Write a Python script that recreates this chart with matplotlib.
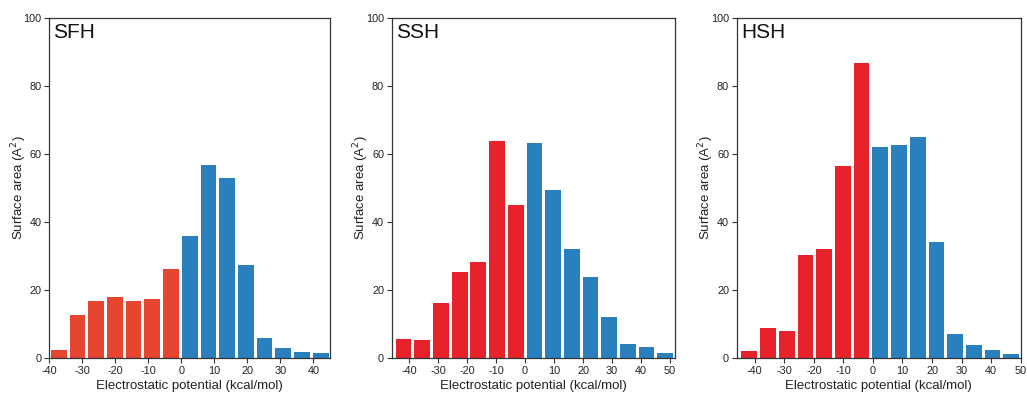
"""Surface area vs electrostatic potential histograms for SFH, SSH and HSH."""

import numpy as np
import matplotlib
matplotlib.use("Agg")
import matplotlib.pyplot as plt

plt.rcParams["font.family"] = ["Liberation Sans", "DejaVu Sans"]
plt.rcParams["axes.unicode_minus"] = False

RED_SFH = "#e64530"
RED = "#e8222a"
BLUE = "#2a80bc"
SPINE = "#333333"

# bin range (kcal/mol) of each histogram, 15 bins each
sfh_range = (-40, 45)
ssh_range = (-45.1, 51.5)
hsh_range = (-45, 50)

sfh_area = [2.4, 12.6, 16.9, 18.1, 16.7, 17.5, 26.1, 35.8, 56.8, 52.9, 27.4, 5.9, 3.1, 1.8, 1.6]
ssh_area = [5.8, 5.3, 16.1, 25.4, 28.2, 63.9, 44.9, 63.3, 49.4, 32.1, 23.9, 12.0, 4.1, 3.4, 1.5]
hsh_area = [2.2, 8.8, 8.0, 30.4, 32.0, 56.5, 86.7, 61.9, 62.6, 64.9, 34.1, 7.2, 4.0, 2.3, 1.3]

n_negative = 7  # first bins (below 0) drawn in red

panels = [
    ("SFH", sfh_range, sfh_area, RED_SFH, (-40, 45), [-40, -30, -20, -10, 0, 10, 20, 30, 40]),
    ("SSH", ssh_range, ssh_area, RED, (-46, 51.7), [-40, -30, -20, -10, 0, 10, 20, 30, 40, 50]),
    ("HSH", hsh_range, hsh_area, RED, (-46.1, 50), [-40, -30, -20, -10, 0, 10, 20, 30, 40, 50]),
]

W, H = 1027, 399
fig = plt.figure(figsize=(W / 100, H / 100), dpi=100)

# axes boxes in pixels: left, right
boxes = [(49.3, 330.0), (391.7, 675.0), (736.7, 1020.7)]
top, bottom = 17.7, 358.3

for (name, (lo, hi), area, red, xlim, xticks), (l, r) in zip(panels, boxes):
    ax = fig.add_axes([l / W, 1 - bottom / H, (r - l) / W, (bottom - top) / H])
    edges = np.linspace(lo, hi, len(area) + 1)
    centers = (edges[:-1] + edges[1:]) / 2
    width = (edges[1] - edges[0]) * 0.84
    colors = [red] * n_negative + [BLUE] * (len(area) - n_negative)
    ax.bar(centers, area, width=width, color=colors, edgecolor="none")

    ax.set_xlim(*xlim)
    ax.set_ylim(0, 100)
    ax.set_xticks(xticks)
    ax.set_yticks([0, 20, 40, 60, 80, 100])
    ax.tick_params(direction="out", length=3.5, width=0.8, colors=SPINE,
                   labelsize=7.8, labelcolor="#222222", pad=2)
    for s in ax.spines.values():
        s.set_color(SPINE)
        s.set_linewidth(0.9)

    ax.set_xlabel("Electrostatic potential (kcal/mol)", fontsize=9.5, color="#222222", labelpad=3)
    ax.set_ylabel("Surface area (A$^2$)", fontsize=9.5, color="#222222", labelpad=-4)
    ax.text(0.015, 0.985, name, transform=ax.transAxes, ha="left", va="top",
            fontsize=15, color="#111111")

fig.savefig("out.png", dpi=100)
